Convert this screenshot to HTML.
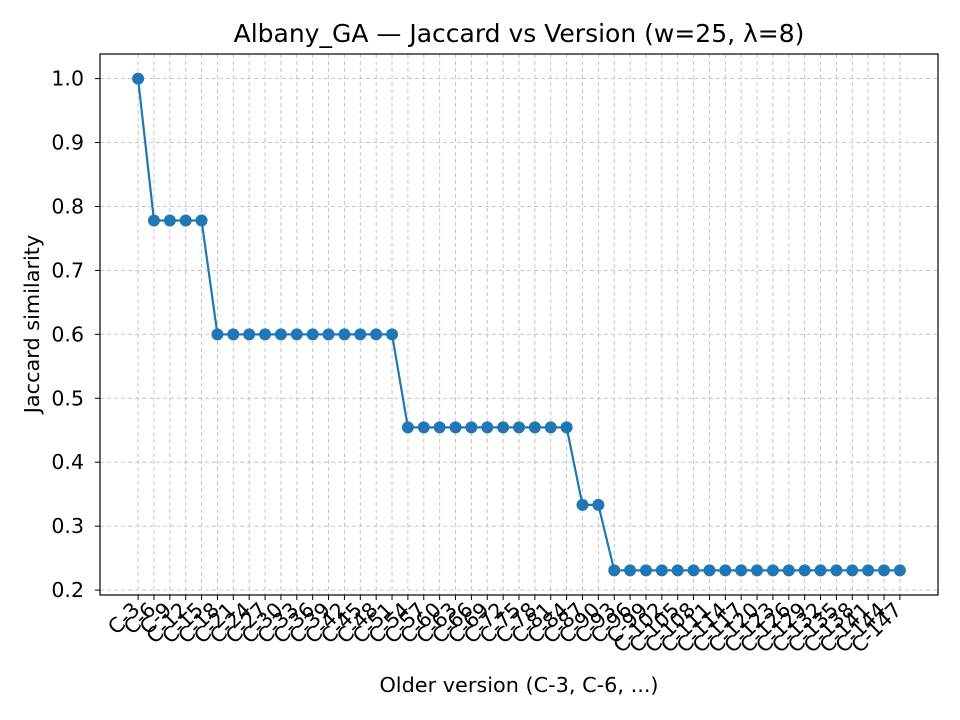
<!DOCTYPE html>
<html><head><meta charset="utf-8"><style>
body{margin:0;background:#fff;}
svg{display:block;font-family:"DejaVu Sans","Liberation Sans",sans-serif;}
</style></head><body>
<svg id="chart" width="960" height="720" xmlns="http://www.w3.org/2000/svg">
<rect width="960" height="720" fill="#fff"/>
<text x="519" y="42" font-size="25" text-anchor="middle">Albany_GA — Jaccard vs Version (w=25, λ=8)</text>
<g id="grid"></g><g id="axes"></g><g id="series"></g>
<rect x="100" y="54" width="838" height="541" fill="none" stroke="#000" stroke-width="1.2"/>
<text x="519" y="692" font-size="20.8" text-anchor="middle">Older version (C-3, C-6, ...)</text>
<text transform="translate(39,324) rotate(-90)" font-size="20.8" text-anchor="middle">Jaccard similarity</text>
</svg>
<script>
const categories = [];
for (let v = 3; v <= 147; v += 3) categories.push('C-' + v);
const values = [1.0,
 0.778,0.778,0.778,0.778,
 0.6,0.6,0.6,0.6,0.6,0.6,0.6,0.6,0.6,0.6,0.6,0.6,
 0.4545,0.4545,0.4545,0.4545,0.4545,0.4545,0.4545,0.4545,0.4545,0.4545,0.4545,
 0.3333,0.3333,
 0.2308,0.2308,0.2308,0.2308,0.2308,0.2308,0.2308,0.2308,0.2308,0.2308,0.2308,0.2308,0.2308,0.2308,0.2308,0.2308,0.2308,0.2308,0.2308];
const yTicks = [0.2,0.3,0.4,0.5,0.6,0.7,0.8,0.9,1.0];

const L=100,R=938,T=54,B=595;
const n = categories.length;
const xmin=-0.05*(n-1), xmax=(n-1)*1.05;
const vmin=Math.min(...values), vmax=Math.max(...values), pad=(vmax-vmin)*0.05;
const ymin=vmin-pad, ymax=vmax+pad;
const xs=i=>L+(i-xmin)/(xmax-xmin)*(R-L);
const ys=v=>B-(v-ymin)/(ymax-ymin)*(B-T);
const NS='http://www.w3.org/2000/svg';
function mk(tag, attrs, parent){const e=document.createElementNS(NS,tag);for(const k in attrs)e.setAttribute(k,attrs[k]);parent.appendChild(e);return e;}
const grid=document.getElementById('grid'), axes=document.getElementById('axes'), series=document.getElementById('series');

yTicks.forEach(t=>{
  const y=ys(t);
  const g=mk('line',{x1:L,x2:R,y1:y,y2:y,stroke:'#b0b0b0','stroke-width':0.9,'stroke-dasharray':'4,3','stroke-opacity':0.8},grid);
  
  
  const tk=mk('line',{x1:L-5,x2:L,y1:y,y2:y,stroke:'#000','stroke-width':1},axes);
  
  
  const lb=mk('text',{x:L-16,y:y+7,'font-size':20.5,'text-anchor':'end'},axes);
  lb.textContent=t.toFixed(1);
  
  
});
categories.forEach((c,i)=>{
  const x=xs(i);
  const g=mk('line',{x1:x,x2:x,y1:T,y2:B,stroke:'#b0b0b0','stroke-width':0.9,'stroke-dasharray':'4,3','stroke-opacity':0.8},grid);
  
  
  const tk=mk('line',{x1:x,x2:x,y1:B,y2:B+5,stroke:'#000','stroke-width':1},axes);
  
  
  const lb=mk('text',{transform:`translate(${x+3},${B+16}) rotate(-45)`,'font-size':20.5,'text-anchor':'end'},axes);
  lb.textContent=c;
  
  
});
const pl=mk('polyline',{points:values.map((v,i)=>xs(i)+','+ys(v)).join(' '),fill:'none',stroke:'#1f77b4','stroke-width':2.2},series);


values.forEach((v,i)=>{
  const c=mk('circle',{cx:xs(i),cy:ys(v),r:6,fill:'#1f77b4'},series);
  
  
});
</script>
</body></html>
